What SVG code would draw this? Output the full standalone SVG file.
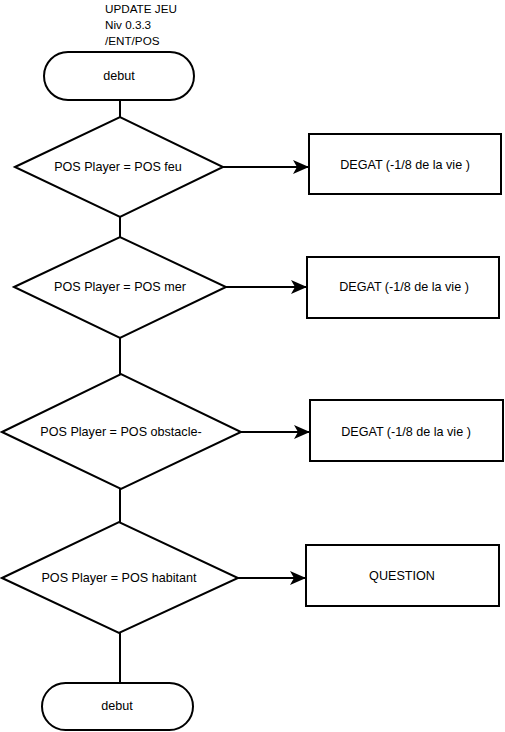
<svg xmlns="http://www.w3.org/2000/svg" width="505" height="732" viewBox="0 0 505 732">
<defs>
<style>
.s{fill:#fff;stroke:#000;stroke-width:2}
.c{fill:none;stroke:#000;stroke-width:2}
text{font-family:"Liberation Sans",Arial,sans-serif;font-size:12.6px;fill:#000}
.t{font-size:11.7px}
.m{text-anchor:middle;dominant-baseline:central}
</style>
<marker id="ah" viewBox="0 0 16 14" refX="15" refY="7" markerWidth="16" markerHeight="14" markerUnits="userSpaceOnUse" orient="auto">
<path d="M0,0 L16,7 L0,14 L4,7 Z" fill="#000"/>
</marker>
</defs>
<rect width="505" height="732" fill="#fff"/>
<g id="title">
<text class="t" x="105" y="13">UPDATE JEU</text>
<text class="t" x="105" y="29">Niv 0.3.3</text>
<text class="t" x="105" y="45">/ENT/POS</text>
</g>
<g id="connectors">
<line class="c" x1="120" y1="100" x2="120" y2="118"/>
<line class="c" x1="120" y1="217" x2="120" y2="237"/>
<line class="c" x1="120" y1="338" x2="120" y2="374"/>
<line class="c" x1="120" y1="489" x2="120" y2="522"/>
<line class="c" x1="120" y1="633" x2="120" y2="683"/>
<line class="c" x1="223" y1="167" x2="308" y2="167" marker-end="url(#ah)"/>
<line class="c" x1="226" y1="287" x2="306" y2="287" marker-end="url(#ah)"/>
<line class="c" x1="241" y1="432" x2="309" y2="432" marker-end="url(#ah)"/>
<line class="c" x1="238" y1="578" x2="305" y2="578" marker-end="url(#ah)"/>
</g>
<g id="start">
<rect class="s" x="44" y="52" width="150" height="48" rx="24" ry="24"/>
<text class="m" x="119" y="76">debut</text>
</g>
<g id="d1">
<polygon class="s" points="15,167 120,117 223,167 120,217"/>
<text class="m" x="118" y="167">POS Player = POS feu</text>
</g>
<g id="r1">
<rect class="s" x="309" y="134" width="192" height="60"/>
<text class="m" x="405" y="165">DEGAT (-1/8 de la vie )</text>
</g>
<g id="d2">
<polygon class="s" points="14,287 120,237 226,287 120,338"/>
<text class="m" x="120" y="287">POS Player = POS mer</text>
</g>
<g id="r2">
<rect class="s" x="307" y="257" width="192" height="61"/>
<text class="m" x="404" y="287">DEGAT (-1/8 de la vie )</text>
</g>
<g id="d3">
<polygon class="s" points="2,432 121,374 241,432 121,489"/>
<text class="m" x="121" y="432">POS Player = POS obstacle-</text>
</g>
<g id="r3">
<rect class="s" x="310" y="400" width="193" height="61"/>
<text class="m" x="406" y="432">DEGAT (-1/8 de la vie )</text>
</g>
<g id="d4">
<polygon class="s" points="2,578 119,522 238,578 119,633"/>
<text class="m" x="119" y="578">POS Player = POS habitant</text>
</g>
<g id="r4">
<rect class="s" x="306" y="545" width="193" height="61"/>
<text class="m" x="402" y="576">QUESTION</text>
</g>
<g id="end">
<rect class="s" x="42" y="683" width="151" height="47" rx="23.5" ry="23.5"/>
<text class="m" x="117" y="706">debut</text>
</g>
</svg>
